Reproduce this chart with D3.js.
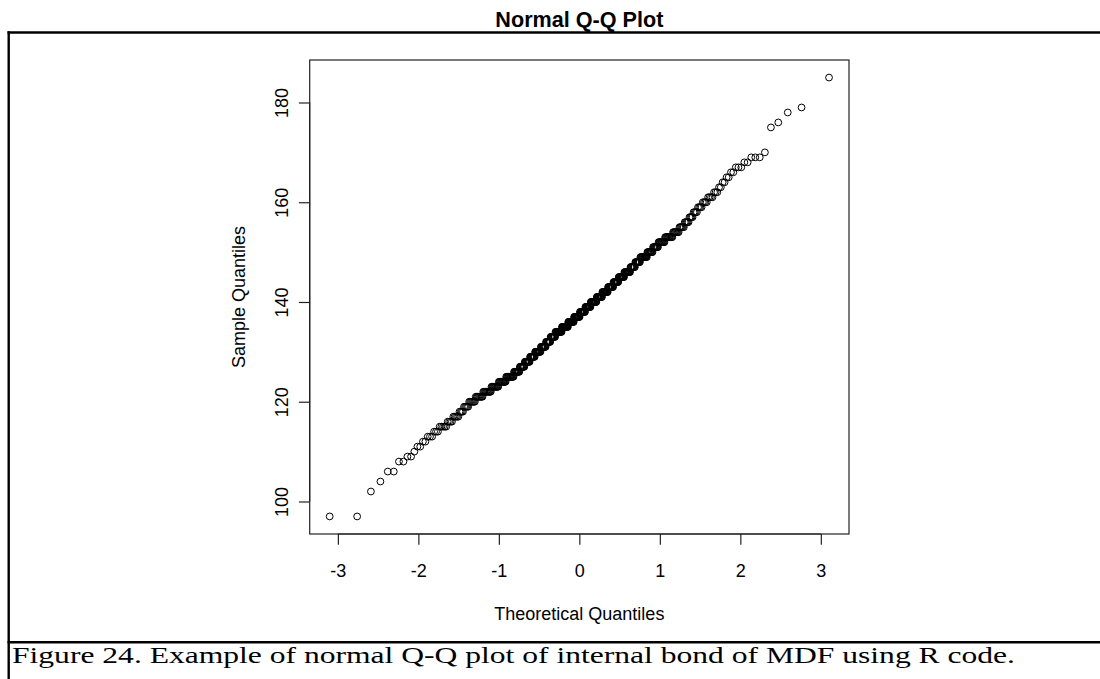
<!DOCTYPE html>
<html>
<head>
<meta charset="utf-8">
<script src="https://cdn.jsdelivr.net/npm/d3@7"></script>
<style>
  body { margin: 0; background: #fff; }
  svg { display: block; }
</style>
</head>
<body>
<script>
// sample values (distinct, sorted) and how many points sit at each one
var sampleValues = [97, 102, 104, 106, 108, 109,
    110, 111, 112, 113, 114, 115, 116, 117, 118, 119,
    120, 121, 122, 123, 124, 125, 126, 127, 128, 129,
    130, 131, 132, 133, 134, 135, 136, 137, 138, 139,
    140, 141, 142, 143, 144, 145, 146, 147, 148, 149,
    150, 151, 152, 153, 154, 155, 156, 157, 158, 159,
    160, 161, 162, 163, 164, 165, 166, 167, 168, 169,
    170, 175, 176, 178, 179, 185];
var valueCounts = [2, 1, 1, 2, 2, 2,
    1, 2, 2, 3, 3, 5, 4, 5, 4, 5,
    7, 9, 11, 11, 12, 14, 11, 10, 11, 11,
    13, 12, 11, 12, 16, 16, 15, 15, 14, 14,
    15, 14, 14, 13, 12, 13, 13, 10, 10, 13,
    10, 9, 10, 11, 8, 6, 5, 4, 4, 4,
    4, 4, 3, 2, 2, 2, 2, 3, 2, 3,
    1, 1, 1, 1, 1, 1];
var xTicks = [-3, -2, -1, 0, 1, 2, 3];
var yTicks = [100, 120, 140, 160, 180];

var chartTitle = "Normal Q-Q Plot";
var xTitle = "Theoretical Quantiles";
var yTitle = "Sample Quantiles";
var captionText = "Figure 24. Example of normal Q-Q plot of internal bond of MDF using R code.";

// inverse normal cdf (Acklam)
function qnorm(p) {
    var a = [-3.969683028665376e+01, 2.209460984245205e+02, -2.759285104469687e+02, 1.383577518672690e+02, -3.066479806614716e+01, 2.506628277459239e+00];
    var b = [-5.447609879822406e+01, 1.615858368580409e+02, -1.556989798598866e+02, 6.680131188771972e+01, -1.328068155288572e+01];
    var c = [-7.784894002430293e-03, -3.223964580411365e-01, -2.400758277161838e+00, -2.549732539343734e+00, 4.374664141464968e+00, 2.938163982698783e+00];
    var d = [7.784695709041462e-03, 3.224671290700398e-01, 2.445134137142996e+00, 3.754408661907416e+00];
    var q, r;
    if (p < 0.02425) {
        q = Math.sqrt(-2 * Math.log(p));
        return (((((c[0]*q+c[1])*q+c[2])*q+c[3])*q+c[4])*q+c[5]) / ((((d[0]*q+d[1])*q+d[2])*q+d[3])*q+1);
    }
    if (p > 1 - 0.02425) {
        q = Math.sqrt(-2 * Math.log(1 - p));
        return -(((((c[0]*q+c[1])*q+c[2])*q+c[3])*q+c[4])*q+c[5]) / ((((d[0]*q+d[1])*q+d[2])*q+d[3])*q+1);
    }
    q = p - 0.5;
    r = q * q;
    return (((((a[0]*r+a[1])*r+a[2])*r+a[3])*r+a[4])*r+a[5])*q / (((((b[0]*r+b[1])*r+b[2])*r+b[3])*r+b[4])*r+1);
}

// expand to the sorted sample and pair with ppoints, like qqnorm()
var sample = [];
sampleValues.forEach(function (v, i) {
    for (var k = 0; k < valueCounts[i]; k++) sample.push(v);
});
var n = sample.length;
var points = sample.map(function (v, i) {
    return { x: qnorm((i + 1 - 0.5) / n), y: v };
});

// R pads the data range by 4% on each side
function padded(ext) {
    var pad = (ext[1] - ext[0]) * 0.04;
    return [ext[0] - pad, ext[1] + pad];
}

var W = 1100, H = 679;
var box = { left: 309.7, right: 849, top: 60, bottom: 534 };
var lineH = 21.6;

var svg = d3.select("body").append("svg")
    .attr("width", W)
    .attr("height", H)
    .style("font-family", "'Liberation Sans', Arial, sans-serif");

var x = d3.scaleLinear()
    .domain(padded(d3.extent(points, function (d) { return d.x; })))
    .range([box.left, box.right]);

var y = d3.scaleLinear()
    .domain(padded(d3.extent(points, function (d) { return d.y; })))
    .range([box.bottom, box.top]);

// document frame lines
svg.append("line")
    .attr("x1", 7.5).attr("x2", W)
    .attr("y1", 32.5).attr("y2", 32.5)
    .attr("stroke", "#000").attr("stroke-width", 2.6);
svg.append("line")
    .attr("x1", 7.5).attr("x2", W)
    .attr("y1", 642.3).attr("y2", 642.3)
    .attr("stroke", "#000").attr("stroke-width", 2.6);
svg.append("line")
    .attr("x1", 8.7).attr("x2", 8.7)
    .attr("y1", 31.2).attr("y2", H)
    .attr("stroke", "#000").attr("stroke-width", 2.4);

// title
svg.append("text")
    .attr("x", (box.left + box.right) / 2)
    .attr("y", 27)
    .attr("text-anchor", "middle")
    .style("font-size", "21.6px")
    .style("font-weight", "bold")
    .text(chartTitle);

// axes (R draws the axis line only between first and last tick)
var xAxis = svg.append("g")
    .attr("transform", "translate(0," + box.bottom + ")")
    .call(d3.axisBottom(x).tickValues(xTicks).tickSize(10.8).tickSizeOuter(0)
        .tickFormat(function (d) { return String(d); }));
xAxis.select(".domain").remove();
xAxis.append("line")
    .attr("x1", x(xTicks[0])).attr("x2", x(xTicks[xTicks.length - 1]))
    .attr("stroke", "#222").attr("stroke-width", 1.2);
xAxis.selectAll(".tick line").attr("stroke", "#222").attr("stroke-width", 1.2);
xAxis.selectAll(".tick text")
    .attr("y", 2 * lineH)
    .attr("dy", 0)
    .attr("fill", "#000")
    .style("font-size", "18px")
    .style("font-family", "'Liberation Sans', Arial, sans-serif");

var yAxis = svg.append("g")
    .attr("transform", "translate(" + box.left + ",0)")
    .call(d3.axisLeft(y).tickValues(yTicks).tickSize(10.8).tickSizeOuter(0)
        .tickFormat(function (d) { return String(d); }));
yAxis.select(".domain").remove();
yAxis.append("line")
    .attr("y1", y(yTicks[0])).attr("y2", y(yTicks[yTicks.length - 1]))
    .attr("stroke", "#222").attr("stroke-width", 1.2);
yAxis.selectAll(".tick line").attr("stroke", "#222").attr("stroke-width", 1.2);
yAxis.selectAll(".tick text")
    .attr("x", null).attr("dy", null)
    .attr("text-anchor", "middle")
    .attr("fill", "#000")
    .style("font-size", "18px")
    .style("font-family", "'Liberation Sans', Arial, sans-serif")
    .attr("transform", "translate(" + (-lineH) + ",0) rotate(-90)");

// plot box
svg.append("rect")
    .attr("x", box.left).attr("y", box.top)
    .attr("width", box.right - box.left)
    .attr("height", box.bottom - box.top)
    .attr("fill", "none")
    .attr("stroke", "#222")
    .attr("stroke-width", 1.2);

// axis titles
svg.append("text")
    .attr("x", (box.left + box.right) / 2)
    .attr("y", box.bottom + 4 * lineH)
    .attr("text-anchor", "middle")
    .style("font-size", "18px")
    .text(xTitle);

svg.append("text")
    .attr("transform", "translate(" + (box.left - 3 * lineH) + "," + ((box.top + box.bottom) / 2) + ") rotate(-90)")
    .attr("text-anchor", "middle")
    .style("font-size", "18px")
    .text(yTitle);

// points
svg.append("g").selectAll("circle")
    .data(points)
    .enter().append("circle")
    .attr("cx", function (d) { return x(d.x); })
    .attr("cy", function (d) { return y(d.y); })
    .attr("r", 3.4)
    .attr("fill", "none")
    .attr("stroke", "#000")
    .attr("stroke-width", 1);

// caption
svg.append("text")
    .attr("x", 12)
    .attr("y", 663)
    .attr("textLength", 1003)
    .attr("lengthAdjust", "spacingAndGlyphs")
    .style("font-family", "'Liberation Serif', 'Times New Roman', serif")
    .style("font-size", "22.5px")
    .text(captionText);
</script>
</body>
</html>
